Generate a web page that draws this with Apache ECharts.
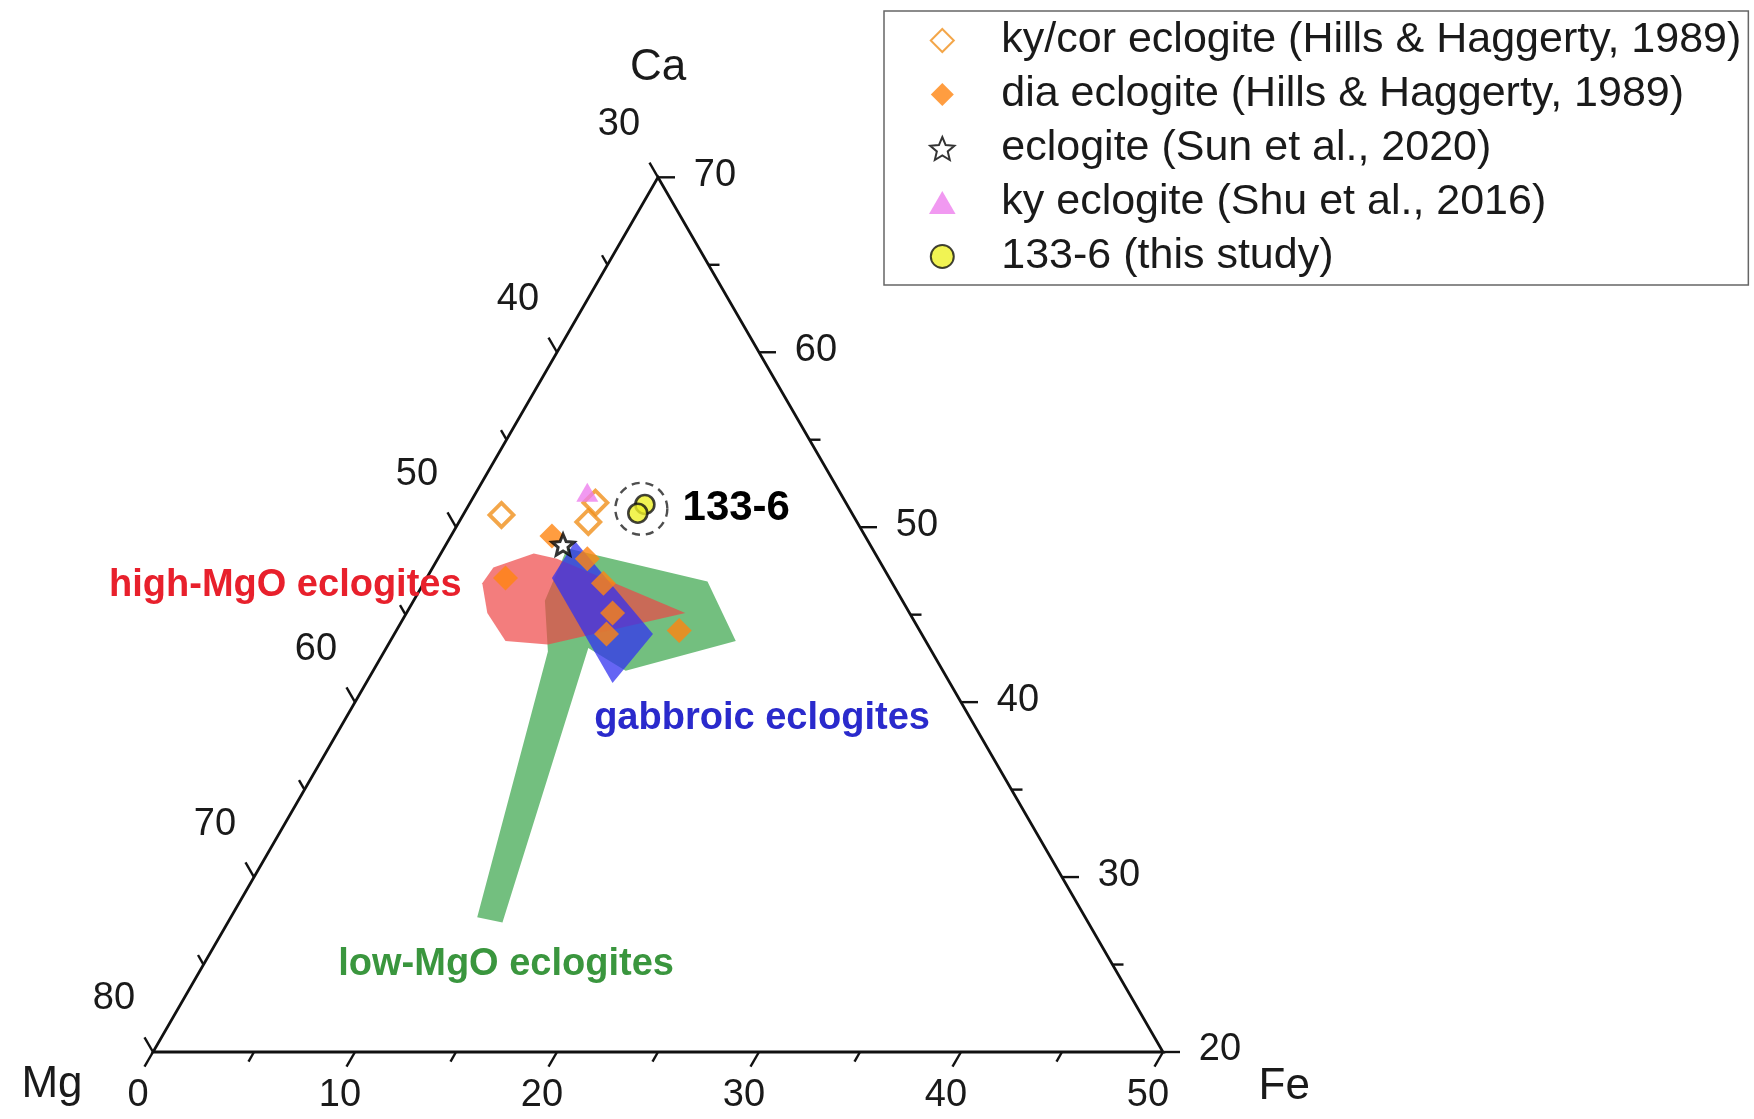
<!DOCTYPE html>
<html><head><meta charset="utf-8">
<script src="https://cdn.jsdelivr.net/npm/echarts@6/dist/echarts.min.js"></script>
<style>html,body{margin:0;padding:0;background:#fff}#c{width:1754px;height:1119px}</style>
</head><body><div id="c"></div>
<script>
// ---- data: garnet compositions [Ca, Mg, Fe] (%) ----
const kyCorEclogite = [[50.7,47.4,1.9],[51.4,42.4,6.2],[50.3,43.3,6.4]];
const diaEclogite = [[49.5,45.5,5.0],[48.2,44.4,7.4],[46.8,44.3,8.9],[45.1,44.7,10.2],[43.9,45.6,10.5],[44.1,41.9,14.0],[47.1,49.0,3.9]];
const sunEclogite = [[49.0,45.2,5.8]];
const shuKyEclogite = [[52.0,42.5,5.5]];
const sample1336 = [[51.3,40.0,8.7],[50.8,40.6,8.6]];
const highMgOField = [[46.8,50.3,2.9],[47.7,49.3,3.0],[48.5,46.9,4.6],[48.2,45.9,5.9],[45.1,41.1,13.8],[43.3,48.8,7.9],[43.5,50.8,5.7],[45.1,50.9,4.0]];
const lowMgOField = [[48.8,45.1,6.1],[46.9,39.1,14.0],[43.5,39.4,17.1],[41.8,45.7,12.5],[43.1,46.9,10.0],[27.4,59.0,13.6],[27.7,60.1,12.2],[42.9,49.0,8.1],[45.8,47.7,6.5]];
const gabbroicField = [[49.2,44.5,6.3],[47.1,46.7,6.2],[41.1,46.7,12.2],[43.9,43.3,12.8]];
const feTicks = [0,5,10,15,20,25,30,35,40,45,50];   // bottom axis (Fe)
const caTicks = [20,25,30,35,40,45,50,55,60,65,70]; // right axis (Ca)
const mgTicks = [30,35,40,45,50,55,60,65,70,75,80]; // left axis (Mg)
const seriesNames = ['ky/cor eclogite (Hills & Haggerty, 1989)','dia eclogite (Hills & Haggerty, 1989)','eclogite (Sun et al., 2020)','ky eclogite (Shu et al., 2016)','133-6 (this study)'];

// ---- ternary transform: Ca 20-70, Mg 30-80, Fe 0-50 ----
const S3 = Math.sqrt(3) / 2;
function toXY(c) { const a = c[0] - 20; return [c[2] + a / 2, a * S3]; }
const SCALE = 20.2; // px per unit (layout)
const FONT = "'Liberation Sans', Arial, sans-serif";

// tick items
const ticks = [];
feTicks.forEach(v => ticks.push({xy: toXY([20, 80 - v, v]), dir: [-0.5, -S3], major: v % 10 === 0, label: v % 10 === 0 ? String(v) : '', off: [-15, 44]}));
caTicks.forEach(v => ticks.push({xy: toXY([v, 30, 70 - v]), dir: [1, 0], major: v % 10 === 0, label: v % 10 === 0 ? String(v) : '', off: [57, -2]}));
mgTicks.forEach(v => ticks.push({xy: toXY([100 - v, v, 0]), dir: [-0.5, S3], major: v % 10 === 0, label: v % 10 === 0 ? String(v) : '', off: [-39, -53]}));

const frame = [toXY([20, 80, 0]), toXY([20, 30, 50]), toXY([70, 30, 0])];

// annotation texts (chart units)
const annotations = [
  {text: 'Ca', xy: [25.0, 48.72], size: 44, weight: 'normal', color: '#1a1a1a'},
  {text: 'Mg', xy: [-5.0, -1.65], size: 44, weight: 'normal', color: '#1a1a1a'},
  {text: 'Fe', xy: [56.0, -1.75], size: 44, weight: 'normal', color: '#1a1a1a'},
  {text: 'high-MgO eclogites', xy: [6.55, 23.1], size: 38, weight: 'bold', color: '#e8202c'},
  {text: 'gabbroic eclogites', xy: [30.15, 16.5], size: 38, weight: 'bold', color: '#2a2acc'},
  {text: 'low-MgO eclogites', xy: [17.48, 4.35], size: 38, weight: 'bold', color: '#3a963e'}
];

function starPath() {
  let d = '';
  for (let i = 0; i < 10; i++) {
    const r = i % 2 ? 0.45 : 1, ang = (-90 + 36 * i) * Math.PI / 180;
    d += (i ? 'L' : 'M') + (r * Math.cos(ang)).toFixed(3) + ',' + (r * Math.sin(ang)).toFixed(3);
  }
  return 'path://' + d + 'Z';
}
const DIAMOND = 'path://M0,-10L10,0L0,10L-10,0Z';
const TRIANGLE = 'path://M0,-10L10,7.3L-10,7.3Z';

function polySeries(name, verts, fill) {
  const pts = verts.map(toXY);
  return {
    type: 'custom', name: name, z: 1, silent: true, data: pts, encode: {x: 0, y: 1},
    renderItem: function (params, api) {
      if (params.dataIndex !== 0) return null;
      return {type: 'polygon', shape: {points: pts.map(p => api.coord(p))}, style: {fill: fill}};
    }
  };
}

const ringCenter = [(toXY(sample1336[0])[0] + toXY(sample1336[1])[0]) / 2, (toXY(sample1336[0])[1] + toXY(sample1336[1])[1]) / 2];

const chart = echarts.init(document.getElementById('c'), null, {renderer: 'canvas'});
chart.setOption({
  animation: false,
  backgroundColor: '#fff',
  grid: {left: 0, right: 0, top: 0, bottom: 0},
  xAxis: {type: 'value', min: -153 / SCALE, max: (1754 - 153) / SCALE, show: false},
  yAxis: {type: 'value', min: -(1119 - 1052) / SCALE, max: 1052 / SCALE, show: false},
  legend: {
    orient: 'vertical', left: 884, top: 11, padding: [8, 7, 7, 45], itemGap: 11,
    itemWidth: 108, itemHeight: 23, borderColor: '#666', borderWidth: 1.5,
    symbolKeepAspect: true,
    textStyle: {fontSize: 43, color: '#1a1a1a', fontFamily: FONT},
    data: seriesNames
  },
  series: [
    polySeries('low-MgO', lowMgOField, 'rgba(90,180,105,0.85)'),
    polySeries('high-MgO', highMgOField, 'rgba(238,70,70,0.7)'),
    polySeries('gabbroic', gabbroicField, 'rgba(50,50,240,0.75)'),
    {
      type: 'custom', name: 'frame', z: 2, silent: true, data: frame, encode: {x: 0, y: 1},
      renderItem: function (params, api) {
        if (params.dataIndex !== 0) return null;
        return {type: 'polygon', shape: {points: frame.map(p => api.coord(p))}, style: {fill: 'none', stroke: '#111', lineWidth: 2.8}};
      }
    },
    {
      type: 'custom', name: 'ticks', z: 2, silent: true, data: ticks.map(t => t.xy), encode: {x: 0, y: 1},
      renderItem: function (params, api) {
        const t = ticks[params.dataIndex];
        const p = api.coord(t.xy);
        const len = t.major ? 17 : 11;
        const children = [{type: 'line', shape: {x1: p[0], y1: p[1], x2: p[0] + t.dir[0] * len, y2: p[1] - t.dir[1] * len}, style: {stroke: '#111', lineWidth: 2.4}}];
        if (t.label) children.push({type: 'text', x: p[0] + t.off[0], y: p[1] + t.off[1], style: {text: t.label, fontSize: 38, fontFamily: FONT, fill: '#1a1a1a', align: 'center', verticalAlign: 'middle'}});
        return {type: 'group', children: children};
      }
    },
    {
      type: 'custom', name: 'annotations', z: 2, silent: true, data: annotations.map(a => a.xy), encode: {x: 0, y: 1},
      renderItem: function (params, api) {
        const a = annotations[params.dataIndex];
        const p = api.coord(a.xy);
        return {type: 'text', x: p[0], y: p[1], style: {text: a.text, fontSize: a.size, fontWeight: a.weight, fontFamily: FONT, fill: a.color, align: 'center', verticalAlign: 'middle'}};
      }
    },
    {name: seriesNames[0], type: 'scatter', z: 3, symbol: DIAMOND, symbolKeepAspect: true, symbolSize: 24, data: kyCorEclogite.map(toXY),
      itemStyle: {color: '#ffffff', borderColor: '#f0901c', borderWidth: 3.8}},
    {name: seriesNames[1], type: 'scatter', z: 3, symbol: DIAMOND, symbolKeepAspect: true, symbolSize: 25, data: diaEclogite.map(toXY),
      itemStyle: {color: '#ff8410'}},
    {name: seriesNames[3], type: 'scatter', z: 3, symbol: TRIANGLE, symbolKeepAspect: true, symbolSize: 22, data: shuKyEclogite.map(toXY),
      itemStyle: {color: '#ee80ee'}},
    {name: seriesNames[2], type: 'scatter', z: 4, symbol: starPath(), symbolKeepAspect: true, symbolSize: 22, data: sunEclogite.map(toXY),
      itemStyle: {color: '#ffffff', borderColor: '#000', borderWidth: 3}},
    {name: seriesNames[4], type: 'scatter', z: 4, symbol: 'circle', symbolKeepAspect: true, symbolSize: 19, data: sample1336.map(toXY),
      itemStyle: {color: '#eef028', borderColor: '#111', borderWidth: 2.6}},
    {name: 'ring', type: 'scatter', z: 4, symbol: 'circle', symbolSize: 52, silent: true,
      data: [ringCenter],
      itemStyle: {color: 'rgba(0,0,0,0)', borderColor: '#222', borderWidth: 2.4, borderType: [8, 6]},
      label: {show: true, position: 'right', distance: 14, formatter: '133-6', fontSize: 42, fontWeight: 'bold', color: '#000', opacity: 1, textBorderWidth: 0, fontFamily: FONT}}
  ]
});
</script></body></html>
